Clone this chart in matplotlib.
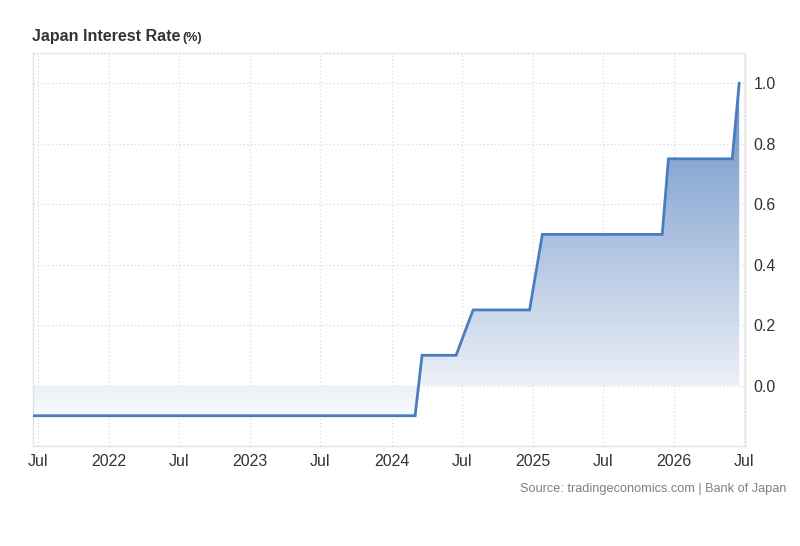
#!/usr/bin/env python3
"""
Japan interest rate chart (tradingeconomics style)
"""
import datetime as dt

import matplotlib
matplotlib.use('Agg')
import matplotlib.dates as mdates
import matplotlib.pyplot as plt
import numpy as np
from matplotlib.colors import LinearSegmentedColormap

plt.rcParams['font.family'] = ['Liberation Sans', 'DejaVu Sans']

# Points where the series changes
DATES = [
    '2021-06-18', '2024-03-02', '2024-03-20', '2024-06-16', '2024-07-30',
    '2024-12-23', '2025-01-25', '2025-12-01', '2025-12-17', '2026-05-31',
    '2026-06-18',
]
RATES = [-0.1, -0.1, 0.1, 0.1, 0.25, 0.25, 0.5, 0.5, 0.75, 0.75, 1.0]

Y_TICKS = [0.0, 0.2, 0.4, 0.6, 0.8, 1.0]

LINE_COLOR = '#4a7dbf'
GRID_COLOR = '#d9d9d9'
SPINE_COLOR = '#e3e3e3'


def tick_label(x, pos=None):
    d = mdates.num2date(x)
    return 'Jul' if d.month == 7 else str(d.year)


def main():
    dates = [dt.datetime.strptime(d, '%Y-%m-%d') for d in DATES]
    x = mdates.date2num(dates)
    y = np.array(RATES)

    fig = plt.figure(figsize=(8, 5.46), dpi=100)
    ax = fig.add_axes([0.04125, 0.1832, 0.89, 0.7197])

    xmin = mdates.date2num(dt.datetime(2021, 6, 18))
    xmax = mdates.date2num(dt.datetime(2026, 7, 3))
    ymin, ymax = -0.2, 1.1
    ax.set_xlim(xmin, xmax)
    ax.set_ylim(ymin, ymax)

    # gradient fill between the line and zero
    poly = ax.fill_between(x, y, 0, color='none', lw=0)
    g_lo, g_hi = -0.12, 1.0
    zero_pos = (0 - g_lo) / (g_hi - g_lo)
    cmap = LinearSegmentedColormap.from_list(
        'te_blue', [(0.0, '#fbfcfe'), (zero_pos, '#ecf0f8'), (1.0, '#6890c6')])
    grad = np.linspace(0, 1, 256).reshape(-1, 1)
    img = ax.imshow(grad, cmap=cmap, aspect='auto', origin='lower',
                    extent=[xmin, xmax, g_lo, g_hi], zorder=1)
    path = poly.get_paths()[0]
    img.set_clip_path(path, transform=ax.transData)

    ax.plot(x, y, color=LINE_COLOR, lw=2.0, zorder=3,
            solid_joinstyle='miter')

    # axes styling
    ax.xaxis.set_major_locator(mdates.MonthLocator(bymonth=[1, 7]))
    ax.xaxis.set_major_formatter(plt.FuncFormatter(tick_label))
    ax.yaxis.tick_right()
    ax.set_yticks(Y_TICKS)
    ax.set_yticklabels(['{:.1f}'.format(v) for v in Y_TICKS])
    ax.tick_params(axis='both', length=0, labelsize=11.5, colors='#333333')
    ax.tick_params(axis='x', pad=6)
    ax.tick_params(axis='y', pad=6)

    ax.grid(True, linestyle=(0, (1, 2)), color=GRID_COLOR, lw=0.9, zorder=0)
    ax.set_axisbelow(True)
    for side in ['left', 'right', 'bottom']:
        ax.spines[side].set_color(SPINE_COLOR)
        ax.spines[side].set_linewidth(1.0)
    ax.spines['top'].set_linestyle((0, (1, 2)))
    ax.spines['top'].set_color(GRID_COLOR)
    ax.spines['top'].set_linewidth(0.9)

    fig.text(0.04, 0.925, 'Japan Interest Rate', fontsize=11.5,
             fontweight='bold', color='#333333', va='baseline')
    fig.text(0.2285, 0.925, '(%)', fontsize=9, fontweight='bold',
             color='#333333', va='baseline')
    fig.text(0.983, 0.098, 'Source: tradingeconomics.com | Bank of Japan',
             fontsize=9.2, color='#808080', ha='right', va='baseline')

    fig.savefig('out.png', dpi=100)
    plt.close(fig)


if __name__ == '__main__':
    main()
